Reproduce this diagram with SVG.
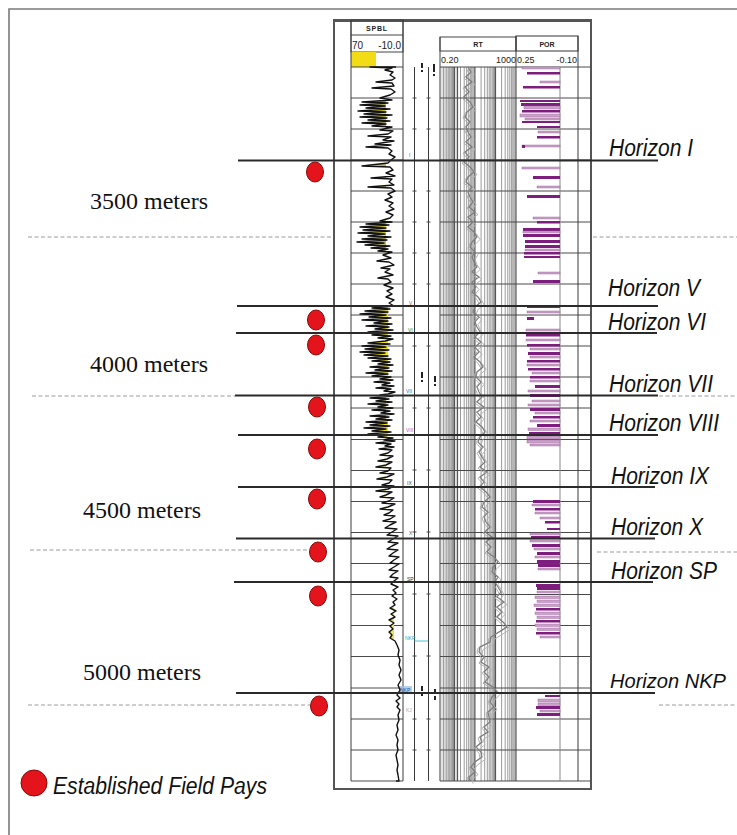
<svg xmlns="http://www.w3.org/2000/svg" xmlns:xlink="http://www.w3.org/1999/xlink" width="737" height="835" viewBox="0 0 737 835">
<style>
.frame{fill:none;stroke:#7a7a7a;stroke-width:1.6}
.dash{fill:none;stroke:#bdbdbd;stroke-width:1.6;stroke-dasharray:4 2.5}
.hl{fill:none;stroke:#2a2a2a;stroke-width:2}
.pay{fill:#e3141b;stroke:#8a0a0a;stroke-width:1}
.hz{font-family:'Liberation Sans',Arial,sans-serif;font-style:italic;font-size:23px;fill:#111}
.dep{font-family:'Liberation Serif','Times New Roman',serif;font-size:24px;fill:#111}
.hdr{font-family:'Liberation Sans',Arial,sans-serif;fill:#222}
.grid{fill:none;stroke:#4a4a4a;stroke-width:1}
.vl{fill:none;stroke:#3a3a3a;stroke-width:1}
.lg{fill:none;stroke:#8f8f8f;stroke-width:0.9}
.lgd{fill:none;stroke:#555;stroke-width:1.2}
.pd{fill:#7d1d7d}
.pl{fill:#c9a3c9;stroke:#9a5a9a;stroke-width:0.4}
.tiny{font-family:'Liberation Sans',Arial,sans-serif;font-size:5px}
</style>
<defs>
<path id="sp" d="M396,67 L370,67 392,68 385,70 393,72 390,75 395,78 392,80 376,82 392,83 394,86 372,88 391,89 395,92 390,95 380,98 392,100 362,102 388,103 360,105 385,106 366,108 390,109 358,111 386,112 364,114 392,115 360,117 387,118 368,120 390,121 362,123 386,124 372,126 392,127 380,130 393,131 388,134 368,136 391,137 383,140 394,141 375,144 391,145 366,147 388,148 392,151 389,154 395,157 391,160 388,163 362,166 390,167 393,170 386,173 395,176 371,178 392,179 389,182 394,185 368,187 391,188 395,191 388,194 392,197 385,200 393,203 389,206 394,209 386,212 393,215 390,218 380,221 392,222 366,224 389,225 360,227 386,228 363,230 390,231 358,233 385,234 368,236 391,237 362,239 387,240 357,242 384,243 365,245 390,246 371,248 388,249 378,251 392,252 383,255 391,258 377,261 389,262 394,265 381,268 390,269 385,272 393,275 378,278 388,279 391,282 384,285 393,288 387,291 392,294 386,297 394,300 389,303 394,306 372,308 390,309 365,311 388,312 360,314 386,315 369,317 391,318 362,320 388,321 374,323 392,324 366,326 389,327 375,329 393,330 368,332 390,333 372,335 391,336 378,338 393,339 385,341 368,343 390,344 362,346 386,347 365,349 389,350 360,352 385,353 364,355 388,356 368,358 391,359 372,361 390,362 378,364 393,365 370,367 389,368 375,370 392,371 366,373 388,374 372,376 391,377 380,379 393,380 374,382 390,383 382,385 394,386 376,388 391,389 384,391 395,392 388,394 380,395 393,396 370,398 389,399 376,401 392,402 368,404 388,405 378,407 393,408 372,410 390,411 381,413 394,414 370,416 389,417 376,419 392,420 366,422 387,423 370,425 390,426 364,428 386,429 372,431 391,432 368,434 389,435 378,437 393,438 384,440 395,441 376,443 391,444 385,446 394,447 379,449 392,450 388,453 380,455 393,456 387,459 378,461 392,462 386,465 376,467 391,468 388,471 380,473 394,474 387,477 377,479 392,480 389,483 382,485 394,486 388,489 376,491 392,492 386,495 380,497 394,498 389,501 382,503 395,504 388,507 380,509 393,510 389,513 384,515 395,516 390,519 383,521 396,522 390,525 385,528 397,529 392,532 387,535 398,536 393,539 388,542 398,543 392,546 387,549 398,550 393,553 389,556 399,557 394,560 390,563 399,564 394,567 389,570 398,571 393,574 390,577 398,578 394,581 391,584 398,587 393,590 396,593 392,596 397,599 393,602 395,605 390,608 396,611 391,614 395,617 389,620 394,623 390,626 393,629 389,632 392,635 390,638 395,641 397,645 399,650 398,655 400,660 399,665 401,670 399,675 401,680 398,685 400,690 397,695 400,698 396,701 399,704 397,707 400,710 398,715 399,720 397,725 398,730 396,735 398,740 397,745 398,750 396,755 397,760 398,765 397,770 398,775 399,781 396,781"/>
<clipPath id="spclip"><use xlink:href="#sp"/></clipPath>
<path id="rt" d="M468,67 L471,72 466,77 472,82 465,87 469,92 464,97 470,102 473,107 467,112 465,117 470,122 466,127 468,132 471,137 466,142 472,147 465,152 469,157 464,162 470,167 474,172 468,177 466,182 472,187 468,192 470,197 473,202 469,207 475,212 468,217 473,222 468,227 474,232 477,237 472,242 470,247 475,252 472,257 474,262 477,267 472,272 479,277 472,282 476,287 472,292 478,297 481,302 475,307 473,312 479,317 475,322 477,327 480,332 475,337 481,342 475,347 479,352 474,357 480,362 483,367 477,372 476,377 481,382 477,387 479,392 482,397 477,402 484,407 477,412 481,417 476,422 482,427 485,432 480,437 478,442 483,447 479,452 482,457 485,462 480,467 487,472 480,477 484,482 480,487 486,492 490,497 484,502 482,507 488,512 484,517 486,522 490,527 485,532 492,537 486,542 491,547 487,552 494,557 498,562 493,567 492,572 498,577 495,582 498,587 501,592 497,597 504,602 497,607 502,612 497,617 503,622 507,627 499,632 491,637 490,642 480,647 479,652 484,657 481,662 489,667 484,672 489,677 485,682 493,687 497,692 492,697 490,702 494,707 488,712 489,717 490,722 484,727 488,732 480,737 482,742 476,747 481,752 482,757 475,762 471,767 475,772 469,777 470,781"/>
</defs>

<g id="outer-frame"><path class="frame" d="M9,836 V9 H738"/></g>

<g id="depth-markers">
<path class="dash" d="M28,237 H334 M593,237 H737 M32,396 H235 M659,396 H737 M30,550 H308 M597,552 H737 M28,705 H310 M659,705 H737"/>
</g>

<g id="log-panel">
<rect x="334" y="20" width="257" height="769" fill="#fff" stroke="#555" stroke-width="2"/>
<line x1="334" y1="20.5" x2="591" y2="20.5" stroke="#555" stroke-width="3"/>
<g id="spbl-header">
<rect x="351" y="20" width="52" height="32" fill="none" stroke="#444" stroke-width="1"/>
<line x1="351" y1="35" x2="403" y2="35" stroke="#444"/>
<text class="hdr" x="377" y="31" font-size="7" font-weight="bold" text-anchor="middle" letter-spacing="0.8">SPBL</text>
<text class="hdr" x="352" y="49" font-size="10">70</text>
<text class="hdr" x="401" y="49" font-size="10" text-anchor="end">-10.0</text>
<rect x="351" y="52" width="25" height="15" fill="#f2dc16"/>
</g>
<g id="rt-header">
<rect x="440" y="37" width="76" height="14" fill="none" stroke="#444"/>
<line x1="440" y1="37" x2="440" y2="67" stroke="#444"/>
<text class="hdr" x="478" y="47" font-size="7" font-weight="bold" text-anchor="middle">RT</text>
<text class="hdr" x="441" y="63" font-size="9">0.20</text>
<text class="hdr" x="516" y="63" font-size="9" text-anchor="end">1000</text>
</g>
<g id="por-header">
<rect x="516" y="36" width="62" height="15" fill="none" stroke="#555" stroke-width="1.2"/>
<text class="hdr" x="547" y="47" font-size="7" font-weight="bold" text-anchor="middle">POR</text>
<text class="hdr" x="517" y="63" font-size="9">0.25</text>
<text class="hdr" x="577" y="63" font-size="9" text-anchor="end">-0.10</text>
</g>
<g id="rt-log-grid">
<rect x="441" y="67" width="17" height="714" fill="#e2e2e2"/>
<path class="lg" d="M443.6,67V781 M446.2,67V781 M448.2,67V781 M449.8,67V781 M451.2,67V781 M452.4,67V781 M453.4,67V781 M460.5,67V781 M464.2,67V781 M466.7,67V781 M468.7,67V781 M470.3,67V781 M471.7,67V781 M472.9,67V781 M474,67V781 M481.1,67V781 M484.7,67V781 M487.3,67V781 M489.2,67V781 M490.8,67V781 M492.2,67V781 M493.4,67V781 M494.5,67V781 M501.6,67V781 M505.2,67V781 M507.8,67V781 M509.8,67V781 M511.4,67V781 M512.8,67V781 M513.9,67V781 M515,67V781"/>
<path class="lgd" d="M454.4,67V781 M474.9,67V781 M495.5,67V781 M457.5,67V781"/>
</g>
<g id="grid">
<path class="grid" d="M351,67H403 M351,98H403 M351,129H403 M351,160H403 M351,191H403 M351,222H403 M351,253H403 M351,284H403 M351,315H403 M351,346H403 M351,377H403 M351,408H403 M351,439.5H403 M351,470.5H403 M351,501.5H403 M351,532.5H403 M351,563.5H403 M351,594.5H403 M351,625.5H403 M351,656.5H403 M351,688H403 M351,719H403 M351,750H403 M351,781H403"/>
<path class="grid" d="M440,67H591 M440,98H591 M440,129H591 M440,160H591 M440,191H591 M440,222H591 M440,253H591 M440,284H591 M440,315H591 M440,346H591 M440,377H591 M440,408H591 M440,439.5H591 M440,470.5H591 M440,501.5H591 M440,532.5H591 M440,563.5H591 M440,594.5H591 M440,625.5H591 M440,656.5H591 M440,688H591 M440,719H591 M440,750H591 M440,781H591"/>
<path class="vl" d="M351,20V781 M403,20V781 M440,67V781 M516,36V781 M578,36V781"/>
<path class="vl" stroke="#666" d="M414.5,67V781 M428.5,67V781"/>
<path fill="none" stroke="#888" stroke-width="1" d="M560,67V781"/>
<path fill="none" stroke="#444" stroke-width="1" d="M412.5,98h4 M412.5,129h4 M412.5,191h4 M412.5,222h4 M412.5,253h4 M412.5,284h4 M412.5,346h4 M412.5,408h4 M412.5,470h4 M412.5,532h4 M412.5,594h4 M412.5,656h4 M412.5,719h4 M412.5,750h4 M426.5,98h4 M426.5,129h4 M426.5,191h4 M426.5,222h4 M426.5,253h4 M426.5,284h4 M426.5,346h4 M426.5,408h4 M426.5,470h4 M426.5,532h4 M426.5,594h4 M426.5,656h4 M426.5,719h4 M426.5,750h4"/>
</g>
<g id="gap-marks" fill="#222">
<rect x="421" y="63" width="2" height="5"/><rect x="421" y="70" width="2" height="2"/><rect x="433" y="64" width="2" height="8"/><rect x="433" y="74" width="2" height="2"/>
<rect x="421" y="372" width="2" height="6"/><rect x="421" y="380" width="2" height="2"/><rect x="434" y="376" width="2" height="6"/><rect x="434" y="384" width="2" height="2"/>
<rect x="421" y="686" width="2" height="5"/><rect x="421" y="693" width="2" height="3"/><rect x="434" y="689" width="2" height="5"/><rect x="434" y="696" width="2" height="4"/>
</g>
<g id="zone-labels">
<text class="tiny" x="409" y="157" fill="#555">I</text>
<text class="tiny" x="409" y="305" fill="#c0502a">V</text>
<text class="tiny" x="408" y="332" fill="#2a8a2a">VI</text>
<text class="tiny" x="406" y="393" fill="#2a6ab0">VII</text>
<text class="tiny" x="406" y="432" fill="#c050c0">VIII</text>
<text class="tiny" x="407" y="485" fill="#444">IX</text>
<text class="tiny" x="409" y="535" fill="#555">X</text>
<text class="tiny" x="407" y="581" fill="#333">SP</text>
<text class="tiny" x="405" y="640" fill="#20b0d0">NKP</text>
<line x1="414" y1="641" x2="428" y2="641" stroke="#20b0d0" stroke-width="0.8"/>
<rect x="399" y="686" width="13" height="7" fill="#a8c4e8" opacity="0.8"/>
<text class="tiny" x="400" y="692" fill="#2050a0">NKP</text>
<text class="tiny" x="406" y="712" fill="#aaa">KJ</text>
</g>
<g id="sp-track">
<g clip-path="url(#spclip)">
<rect x="352" y="98" width="34" height="30" fill="#b9b36a"/>
<rect x="352" y="110" width="34" height="8" fill="#e8d820"/>
<rect x="352" y="160" width="34" height="30" fill="#b9b36a"/>
<rect x="352" y="220" width="34" height="33" fill="#bdb55a"/>
<rect x="352" y="226" width="34" height="10" fill="#eedd1c"/>
<rect x="352" y="306" width="36" height="35" fill="#e2d630"/>
<rect x="352" y="341" width="36" height="38" fill="#f5e415"/>
<rect x="352" y="379" width="34" height="20" fill="#b9b36a"/>
<rect x="352" y="399" width="34" height="20" fill="#c4bc60"/>
<rect x="352" y="419" width="36" height="22" fill="#f0de18"/>
<rect x="352" y="441" width="34" height="40" fill="#c6c080"/>
<rect x="352" y="481" width="34" height="40" fill="#d8d060"/>
<rect x="352" y="595" width="42" height="50" fill="#ece45a"/>
</g>
<use xlink:href="#sp" fill="none" stroke="#111" stroke-width="1.4" stroke-linejoin="round"/>
</g>
<g id="rt-track">
<use xlink:href="#rt" transform="translate(3,2.5)" fill="none" stroke="#b4b4b4" stroke-width="1"/>
<use xlink:href="#rt" transform="translate(-2,1.2)" fill="none" stroke="#a8a8a8" stroke-width="0.9"/>
<use xlink:href="#rt" fill="none" stroke="#7c7c7c" stroke-width="1.2"/>
</g>
<g id="por-track">
<rect class="pl" x="522" y="67" width="38" height="2"/><rect class="pd" x="527" y="72" width="33" height="2.5"/><rect class="pl" x="540" y="81" width="20" height="2"/><rect class="pd" x="523" y="86" width="37" height="2.5"/>
<rect class="pd" x="520" y="100" width="40" height="2"/><rect class="pd" x="521" y="103" width="39" height="3"/><rect class="pl" x="524" y="106" width="36" height="3"/><rect class="pd" x="522" y="110" width="38" height="2.5"/><rect class="pl" x="520" y="114" width="40" height="3"/><rect class="pl" x="525" y="118" width="35" height="2"/><rect class="pd" x="522" y="121" width="38" height="2"/><rect class="pd" x="537" y="126" width="23" height="2"/><rect class="pl" x="538" y="131" width="22" height="2"/><rect class="pd" x="537" y="136" width="23" height="2.5"/><rect class="pl" x="522" y="145" width="38" height="2"/><rect class="pd" x="522" y="145" width="3" height="3"/>
<rect class="pl" x="522" y="167" width="38" height="2"/><rect class="pd" x="533" y="176" width="27" height="3"/><rect class="pl" x="537" y="186" width="23" height="2"/><rect class="pd" x="527" y="195" width="33" height="3"/><rect class="pl" x="533" y="217" width="27" height="2"/><rect class="pd" x="537" y="221" width="23" height="2.5"/>
<rect class="pd" x="523" y="228" width="37" height="3"/><rect class="pl" x="523" y="231" width="37" height="2"/><rect class="pd" x="523" y="234" width="37" height="3"/><rect class="pd" x="525" y="240" width="35" height="3"/><rect class="pd" x="525" y="245" width="35" height="3"/><rect class="pl" x="525" y="249" width="35" height="2"/><rect class="pd" x="524" y="252" width="36" height="2.5"/><rect class="pd" x="524" y="256" width="36" height="2"/>
<rect class="pl" x="538" y="272" width="22" height="2"/><rect class="pd" x="533" y="280" width="27" height="3"/><rect class="pd" x="527" y="305" width="33" height="3"/><rect class="pl" x="527" y="311" width="33" height="2"/><rect class="pd" x="527" y="317" width="7" height="3"/><rect class="pl" x="526" y="329" width="34" height="2"/><rect class="pd" x="526" y="334" width="34" height="2.5"/><rect class="pl" x="526" y="339" width="34" height="2"/>
<rect class="pd" x="527" y="344" width="33" height="2.5"/><rect class="pl" x="530" y="348" width="30" height="2"/><rect class="pd" x="528" y="352" width="32" height="3"/><rect class="pl" x="530" y="356" width="30" height="2"/><rect class="pd" x="527" y="360" width="33" height="2.5"/><rect class="pl" x="527" y="364" width="33" height="2"/><rect class="pd" x="528" y="368" width="32" height="2.5"/><rect class="pl" x="532" y="372" width="28" height="2"/><rect class="pd" x="530" y="376" width="30" height="2.5"/><rect class="pl" x="530" y="380" width="30" height="2"/><rect class="pd" x="535" y="385" width="25" height="3"/><rect class="pl" x="528" y="390" width="32" height="2"/><rect class="pd" x="530" y="394" width="30" height="3"/><rect class="pl" x="532" y="400" width="28" height="2"/><rect class="pl" x="528" y="404" width="32" height="2"/><rect class="pd" x="530" y="408" width="30" height="3"/><rect class="pl" x="535" y="412" width="25" height="2"/><rect class="pd" x="533" y="416" width="27" height="2.5"/><rect class="pl" x="530" y="420" width="30" height="2"/><rect class="pd" x="537" y="424" width="23" height="3"/><rect class="pl" x="528" y="428" width="32" height="2.5"/><rect class="pd" x="529" y="432" width="31" height="2.5"/><rect class="pl" x="527" y="436" width="33" height="3"/><rect class="pl" x="527" y="440" width="33" height="3"/><rect class="pl" x="530" y="444" width="30" height="2"/>
<rect class="pd" x="533" y="500" width="27" height="3"/><rect class="pl" x="532" y="504" width="28" height="2"/><rect class="pd" x="535" y="508" width="25" height="2.5"/><rect class="pl" x="535" y="512" width="25" height="2"/><rect class="pl" x="540" y="517" width="20" height="2"/><rect class="pd" x="545" y="521" width="15" height="2.5"/><rect class="pd" x="547" y="528" width="13" height="2"/>
<rect class="pl" x="530" y="533" width="30" height="2"/><rect class="pd" x="531" y="536" width="29" height="3"/><rect class="pl" x="530" y="540" width="30" height="2"/><rect class="pd" x="532" y="544" width="28" height="3"/><rect class="pl" x="534" y="548" width="26" height="2"/><rect class="pd" x="537" y="552" width="23" height="3"/><rect class="pl" x="535" y="556" width="25" height="2"/><rect class="pd" x="537" y="560" width="23" height="3"/><rect class="pd" x="538" y="564" width="22" height="3"/><rect class="pl" x="538" y="568" width="22" height="2"/>
<rect class="pd" x="536" y="584" width="24" height="3"/><rect class="pd" x="537" y="587" width="23" height="3"/><rect class="pl" x="537" y="591" width="23" height="2"/><rect class="pl" x="535" y="596" width="25" height="2.5"/><rect class="pl" x="537" y="600" width="23" height="2.5"/><rect class="pl" x="534" y="604" width="26" height="2.5"/><rect class="pd" x="536" y="608" width="24" height="2.5"/><rect class="pl" x="535" y="612" width="25" height="2.5"/><rect class="pl" x="537" y="616" width="23" height="2.5"/><rect class="pd" x="536" y="620" width="24" height="2.5"/><rect class="pl" x="535" y="624" width="25" height="2.5"/><rect class="pl" x="537" y="628" width="23" height="2.5"/><rect class="pd" x="536" y="632" width="24" height="2.5"/><rect class="pl" x="540" y="636" width="20" height="2"/>
<rect class="pd" x="545" y="695" width="15" height="2"/><rect class="pl" x="538" y="699" width="22" height="3"/><rect class="pl" x="538" y="703" width="22" height="2.5"/><rect class="pd" x="536" y="706" width="24" height="3"/><rect class="pl" x="540" y="710" width="20" height="2"/><rect class="pd" x="537" y="713" width="23" height="3"/>
</g>
</g>

<g id="horizons">
<path class="hl" d="M238,160.5 H658 M237,306 H658 M235,395.5 H658 M238,435 H658 M238,487 H655 M236,538.5 H655 M234,582 H653 M236,693 H655"/>
<path class="hl" stroke-width="1.5" d="M236,333 H657"/>
</g>

<g id="horizon-labels">
<g id="lbl-horizon-i"><text class="hz" x="609" y="156" textLength="84" lengthAdjust="spacingAndGlyphs">Horizon I</text></g>
<g id="lbl-horizon-v"><text class="hz" x="608" y="296" textLength="92" lengthAdjust="spacingAndGlyphs">Horizon V</text></g>
<g id="lbl-horizon-vi"><text class="hz" x="608" y="330" textLength="98" lengthAdjust="spacingAndGlyphs">Horizon VI</text></g>
<g id="lbl-horizon-vii"><text class="hz" x="609" y="392" textLength="104" lengthAdjust="spacingAndGlyphs">Horizon VII</text></g>
<g id="lbl-horizon-viii"><text class="hz" x="609" y="431" textLength="110" lengthAdjust="spacingAndGlyphs">Horizon VIII</text></g>
<g id="lbl-horizon-ix"><text class="hz" x="611" y="484" textLength="98" lengthAdjust="spacingAndGlyphs">Horizon IX</text></g>
<g id="lbl-horizon-x"><text class="hz" x="611" y="535" textLength="92" lengthAdjust="spacingAndGlyphs">Horizon X</text></g>
<g id="lbl-horizon-sp"><text class="hz" x="611" y="579" textLength="106" lengthAdjust="spacingAndGlyphs">Horizon SP</text></g>
<g id="lbl-horizon-nkp"><text class="hz" x="610" y="688" font-size="21" textLength="116" lengthAdjust="spacingAndGlyphs" style="font-size:21px">Horizon NKP</text></g>
</g>

<g id="depth-labels">
<g id="d3500"><text class="dep" x="90" y="209">3500 meters</text></g>
<g id="d4000"><text class="dep" x="90" y="372">4000 meters</text></g>
<g id="d4500"><text class="dep" x="83" y="518">4500 meters</text></g>
<g id="d5000"><text class="dep" x="83" y="680">5000 meters</text></g>
</g>

<g id="field-pays">
<ellipse class="pay" cx="315" cy="172" rx="8.5" ry="10"/>
<ellipse class="pay" cx="316" cy="320" rx="8.5" ry="10"/>
<ellipse class="pay" cx="316" cy="345" rx="8.5" ry="10"/>
<ellipse class="pay" cx="317" cy="407" rx="8.5" ry="10"/>
<ellipse class="pay" cx="317" cy="449" rx="8.5" ry="10"/>
<ellipse class="pay" cx="317" cy="499" rx="8.5" ry="10"/>
<ellipse class="pay" cx="318" cy="552" rx="8.5" ry="10"/>
<ellipse class="pay" cx="318" cy="596" rx="8.5" ry="10"/>
<ellipse class="pay" cx="319" cy="706" rx="8.5" ry="10"/>
</g>

<g id="legend">
<circle class="pay" cx="34" cy="783" r="13"/>
<text class="hz" x="53" y="794" textLength="214" lengthAdjust="spacingAndGlyphs">Established Field Pays</text>
</g>
</svg>
